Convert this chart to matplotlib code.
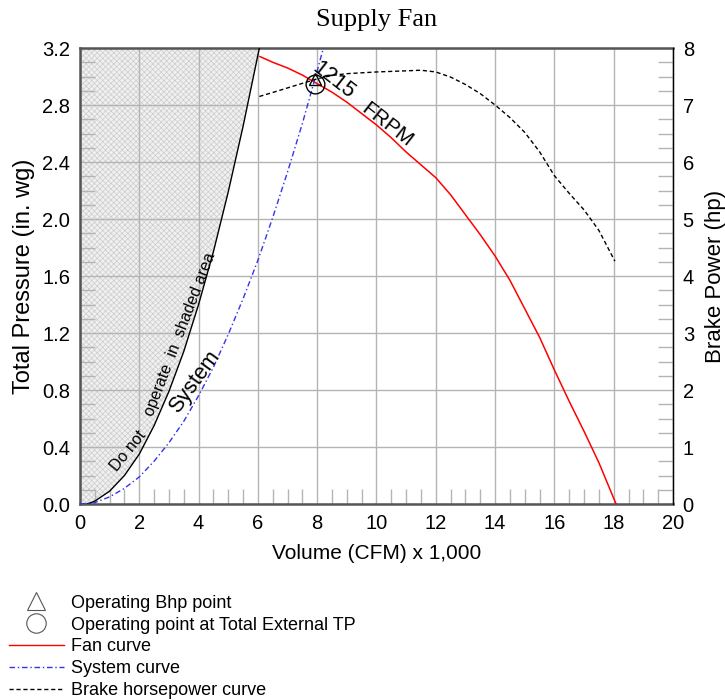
import matplotlib.pyplot as plt
from matplotlib.lines import Line2D
from matplotlib.ticker import MultipleLocator

plt.rcParams['font.family'] = ['Liberation Sans', 'DejaVu Sans']
plt.rcParams['hatch.linewidth'] = 0.5

# fan curve at 1215 rpm (x 1,000 cfm, in. wg)
fan_cfm = [6.07, 6.5, 7.0, 7.5, 8.0, 8.5, 9.0, 9.5, 10.0, 10.5, 11.0, 11.5, 12.0,
           12.5, 13.0, 13.5, 14.0, 14.5, 15.0, 15.5, 16.0, 16.5, 17.0, 17.5, 18.08]
fan_tp = [3.14, 3.10, 3.06, 3.01, 2.95, 2.89, 2.82, 2.74, 2.66, 2.57, 2.47, 2.38, 2.29,
          2.17, 2.03, 1.89, 1.74, 1.57, 1.37, 1.17, 0.94, 0.72, 0.51, 0.29, 0.0]

# brake horsepower curve (hp)
bhp_cfm = [6.05, 6.5, 7.0, 7.5, 8.0, 8.5, 9.0, 10.0, 11.0, 11.5, 12.0, 12.5, 13.0,
           13.5, 14.0, 14.5, 15.0, 15.5, 16.0, 16.5, 17.0, 17.5, 18.04]
bhp_hp = [7.15, 7.22, 7.30, 7.38, 7.46, 7.52, 7.55, 7.58, 7.60, 7.61, 7.58, 7.49, 7.36,
          7.20, 7.0, 6.78, 6.52, 6.18, 5.76, 5.45, 5.16, 4.80, 4.26]

# system curve
sys_cfm = [0.0, 0.5, 1.0, 1.5, 2.0, 2.5, 3.0, 3.5, 4.0, 4.5, 5.0, 5.5, 6.0, 6.5, 7.0, 7.5, 8.0, 8.3]
sys_tp = [0.0, 0.01, 0.05, 0.11, 0.19, 0.30, 0.43, 0.58, 0.76, 0.96, 1.19, 1.44, 1.71, 2.01, 2.33, 2.67, 3.04, 3.27]

# do-not-operate boundary
lim_cfm = [0.25, 0.5, 1.0, 1.5, 2.0, 2.5, 3.0, 3.5, 4.0, 4.5, 5.0, 5.5, 6.05]
lim_tp = [0.0, 0.02, 0.09, 0.2, 0.35, 0.55, 0.79, 1.07, 1.40, 1.77, 2.19, 2.65, 3.2]

op_cfm, op_tp, op_bhp = 7.93, 2.95, 7.45

fig = plt.figure(figsize=(7.25, 7.0), dpi=100)
ax = fig.add_axes([0.1103, 0.28, 0.818, 0.6514])
ax2 = ax.twinx()

grid_c = '#b4b4b4'
ax.set_xlim(0, 20)
ax.set_ylim(0, 3.2)
ax2.set_ylim(0, 8)
ax.xaxis.set_major_locator(MultipleLocator(2))
ax.xaxis.set_minor_locator(MultipleLocator(0.5))
ax.yaxis.set_major_locator(MultipleLocator(0.4))
ax.yaxis.set_minor_locator(MultipleLocator(0.1))
ax2.yaxis.set_major_locator(MultipleLocator(1))
ax2.yaxis.set_minor_locator(MultipleLocator(0.25))
ax.grid(True, which='major', color=grid_c, lw=1)
ax.set_axisbelow(True)

ax.tick_params(which='major', length=0, labelsize=14.5, pad=7)
ax.tick_params(which='minor', direction='in', length=10.5, color=grid_c, width=1)
ax2.tick_params(which='major', length=0, labelsize=14.5, pad=7)
ax2.tick_params(which='minor', direction='in', length=10.5, color=grid_c, width=1)
ax.set_yticklabels([f'{v:.1f}' for v in ax.get_yticks()])

for s in ['left', 'bottom', 'top']:
    ax.spines[s].set_color('#555555')
    ax.spines[s].set_linewidth(1.8)
ax2.spines['right'].set_color('black')
ax2.spines['right'].set_linewidth(1)
for s in ['left', 'bottom', 'top']:
    ax2.spines[s].set_visible(False)

# shaded area
ax.fill_betweenx([0] + lim_tp + [3.2], 0, [0.25] + lim_cfm + [6.05],
                 facecolor='#f0f0f0', edgecolor='#cccccc', hatch='xxxxxx', lw=0, zorder=0.3)
ax.plot(lim_cfm, lim_tp, color='black', lw=1, zorder=3)

ax.plot(fan_cfm, fan_tp, color='red', lw=1.1, zorder=3)
ax.plot(sys_cfm, sys_tp, color='#3333ee', lw=1, ls=(0, (4, 2, 1, 2)), zorder=3)
ax2.plot(bhp_cfm, bhp_hp, color='black', lw=1, ls=(0, (3, 2)), zorder=3)

ax.plot(op_cfm, op_tp, 'o', ms=13.5, mfc='none', mec='black', mew=1, zorder=4)
ax2.plot(op_cfm, op_bhp, '^', ms=9, mfc='none', mec='black', mew=1, zorder=4)

ax.text(8.55, 2.97, '1215', fontsize=15.5, rotation=-38, ha='center', va='center',
        rotation_mode='anchor')
ax.text(10.35, 2.66, 'FRPM', fontsize=15, rotation=-38, ha='center', va='center',
        rotation_mode='anchor')
ax.text(1.62, 0.37, 'Do not', fontsize=11.5, rotation=51, ha='center', va='center',
        rotation_mode='anchor')
ax.text(3.38, 1.19, 'operate  in  shaded area', fontsize=11.5, rotation=69,
        ha='center', va='center', rotation_mode='anchor')
ax.text(3.85, 0.86, 'System', fontsize=15.5, rotation=54, ha='center', va='center',
        rotation_mode='anchor')

ax.set_xlabel('Volume (CFM) x 1,000', fontsize=15, labelpad=8)
ax.set_ylabel('Total Pressure (in. wg)', fontsize=17, labelpad=5)
ax2.set_ylabel('Brake Power (hp)', fontsize=16, labelpad=8)
ax.set_title('Supply Fan', family=['Liberation Serif', 'DejaVu Serif'], fontsize=19, pad=15.5)

handles = [
    Line2D([], [], ls='none', marker='^', ms=13, mfc='none', mec='#555555', mew=0.8),
    Line2D([], [], ls='none', marker='o', ms=14, mfc='none', mec='#555555', mew=0.8),
    Line2D([], [], color='red', lw=1),
    Line2D([], [], color='#3333ee', lw=1, ls=(0, (4, 2, 1, 2))),
    Line2D([], [], color='black', lw=1, ls=(0, (3, 2))),
]
labels = ['Operating Bhp point', 'Operating point at Total External TP',
          'Fan curve', 'System curve', 'Brake horsepower curve']
fig.legend(handles, labels, loc='upper left', bbox_to_anchor=(-0.002, 0.166),
           frameon=False, fontsize=13, handlelength=3.0, handletextpad=0.4,
           labelspacing=0.27, borderaxespad=0.2)

fig.savefig('out.png', dpi=100)
